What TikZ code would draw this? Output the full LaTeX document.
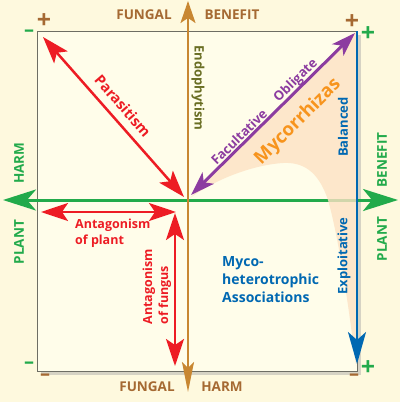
\documentclass[tikz,border=0pt]{standalone}
\usepackage{fontspec}
\setmainfont{Open Sans}
\usepackage{tikz}
\usetikzlibrary{arrows.meta,positioning}
\definecolor{mbgouter}{RGB}{254,249,222}
\definecolor{mbginner}{RGB}{255,253,234}
\definecolor{mshadow}{RGB}{214,211,196}
\definecolor{medge}{RGB}{110,110,100}
\definecolor{mgreen}{RGB}{34,170,75}
\definecolor{mbrown}{RGB}{200,135,50}
\definecolor{mbrowntext}{RGB}{165,105,50}
\definecolor{mred}{RGB}{237,28,36}
\definecolor{mpurple}{RGB}{140,60,160}
\definecolor{mpeach}{RGB}{253,226,196}
\definecolor{morange}{RGB}{247,148,29}
\definecolor{mblue}{RGB}{0,104,178}
\definecolor{molive}{RGB}{105,110,35}
\tikzstyle{plantaxis} = [line width=3pt,color=mgreen,{Stealth[length=35pt,width=22pt,inset=9pt]}-{Stealth[length=33pt,width=21pt,inset=9pt]}]
\tikzstyle{fungaxis} = [line width=2.2pt,color=mbrown,{Stealth[length=22pt,width=15pt,inset=5pt]}-{Stealth[length=30pt,width=12pt,inset=6pt]}]
\tikzstyle{redarrow} = [line width=2.5pt,color=mred,{Stealth[length=27pt,width=18pt,inset=6pt]}-{Stealth[length=27pt,width=18pt,inset=6pt]}]
\tikzstyle{purplearrow} = [line width=3pt,color=mpurple,{Stealth[length=24pt,width=16pt,inset=6pt]}-{Stealth[length=24pt,width=16pt,inset=6pt]}]
\tikzstyle{bluearrow} = [line width=2.5pt,color=mblue,-{Stealth[length=32pt,width=18pt,inset=8pt]}]
\tikzstyle{axislabel} = [font=\fontsize{13.5}{15}\selectfont\bfseries]
\tikzstyle{sign} = [font=\fontsize{20}{20}\selectfont\bfseries,inner sep=0pt]
\tikzstyle{plussign} = [font=\fontsize{25}{25}\selectfont\bfseries,inner sep=0pt]
\tikzstyle{kindlabel} = [font=\fontsize{13}{16}\selectfont\bfseries,inner sep=1pt]

\begin{document}
\begin{tikzpicture}[x=1pt,y=-1pt]
\useasboundingbox (0,0) rectangle (400,402);
% Background and box
\fill[mbgouter] (0,0) rectangle (400,402);
\fill[mshadow] (41,35) rectangle (361,375);
\fill[mbginner] (37,31) rectangle (357,371);
\draw[medge, line width=0.8pt] (37,31) rectangle (357,371);

% Axis ends
\coordinate (plantL) at (3,200);
\coordinate (plantR) at (398,200);
\coordinate (fungT) at (188,1);
\coordinate (fungB) at (188,392);

\draw[plantaxis] (plantR) -- (plantL);

% Mycorrhizal zone
\fill[mpeach, fill opacity=0.8] (190,198) -- (356,32) -- (356,366)
  .. controls (348,300) and (338,235) .. (328,200)
  .. controls (318,170) and (302,162) .. (283,163)
  .. controls (252,165) and (214,180) .. (190,198) -- cycle;

\draw[fungaxis] (fungT) -- (fungB);

% Axis labels
\node[axislabel, text=mbrowntext] (fbT) at (144,15) {FUNGAL};
\node[axislabel, text=mbrowntext] (bnT) at (232,15) {BENEFIT};
\node[axislabel, text=mbrowntext] (fbB) at (147,387) {FUNGAL};
\node[axislabel, text=mbrowntext] (hmB) at (222,387) {HARM};
\node[axislabel, text=mgreen, rotate=90] (hmL) at (19,163) {HARM};
\node[axislabel, text=mgreen, rotate=90] (plL) at (19,242) {PLANT};
\node[axislabel, text=mgreen, rotate=90] (bnR) at (382,160) {BENEFIT};
\node[axislabel, text=mgreen, rotate=90] (plR) at (382,239) {PLANT};

% Corner signs
\node[plussign, text=mbrowntext] (s1) at (44,21) {+};
\node[sign, text=mgreen] (s2) at (29,33) {–};
\node[plussign, text=mbrowntext] (s3) at (352,22) {+};
\node[plussign, text=mgreen] (s4) at (368,34) {+};
\node[sign, text=mgreen] (s5) at (29,365) {–};
\node[sign, text=mbrowntext] (s6) at (45,377) {–};
\node[sign, text=mbrowntext] (s7) at (354,377) {–};
\node[plussign, text=mgreen] (s8) at (368,368) {+};

% Interaction arrows
\coordinate (parA) at (43,37);
\coordinate (parB) at (184,197);
\coordinate (mycA) at (191,195);
\coordinate (mycB) at (355,33);
\coordinate (apA) at (41,212);
\coordinate (apB) at (176,212);
\coordinate (afA) at (175,213);
\coordinate (afB) at (175,366);
\coordinate (blT) at (357,31);
\coordinate (blB) at (357,364);

\draw[redarrow] (parA) -- (parB);
\draw[purplearrow] (mycA) -- (mycB);
\draw[redarrow] (apA) -- (apB);
\draw[redarrow] (afA) -- (afB);
\draw[bluearrow] (blT) -- (blB);

% Interaction labels
\node[font=\fontsize{14.5}{15}\selectfont\bfseries, text=mred, rotate=-49] (par) at (123,106) {Parasitism};
\node[kindlabel, text=mpurple, rotate=44.5] (fac) at (239,137) {Facultative};
\node[kindlabel, text=mpurple, rotate=44.5] (obl) at (296,81) {Obligate};
\node[font=\fontsize{18.5}{19}\selectfont\bfseries, text=morange, rotate=45] (myc) at (298,122) {Mycorrhizas};
\node[kindlabel, text=mblue, rotate=90] (bal) at (343,127) {Balanced};
\node[kindlabel, text=mblue, rotate=90] (exp) at (344,256) {Exploitative};
\node[kindlabel, text=molive, rotate=-90] (endo) at (198,88) {Endophytism};
\node[font=\fontsize{14}{18}\selectfont\bfseries, text=mblue, align=left, anchor=west, inner sep=0pt] (mh) at (222,280) {Myco-\\heterotrophic\\Associations};
\node[font=\fontsize{12.5}{16}\selectfont\bfseries, text=mred, align=left, anchor=west, inner sep=0pt] (antp) at (75,233) {Antagonism\\of plant};
\node[font=\fontsize{12.5}{16}\selectfont\bfseries, text=mred, align=left, rotate=90, inner sep=0pt] (antf) at (157,287) {Antagonism\\of fungus};
\end{tikzpicture}
\end{document}
